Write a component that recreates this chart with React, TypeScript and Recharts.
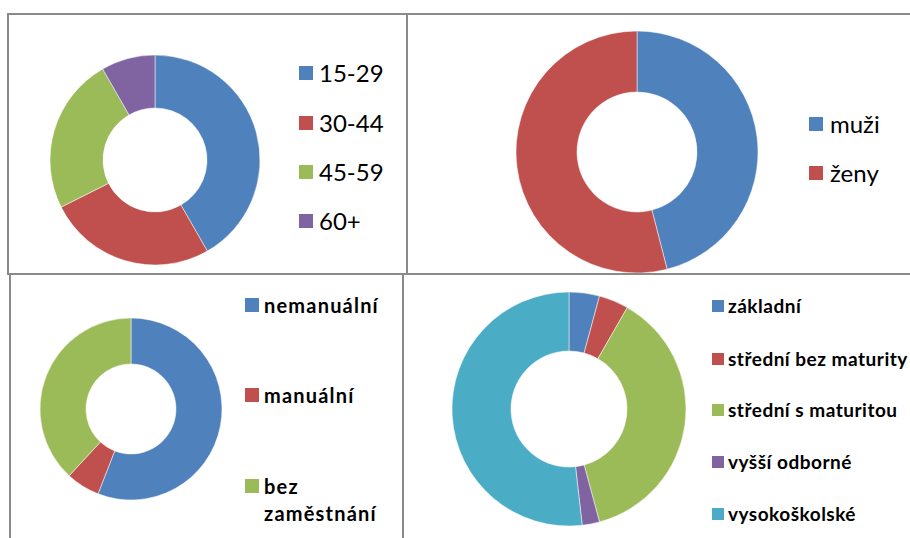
import { Cell, Legend, Pie, PieChart } from "recharts";

const AGE_LABELS = ["15-29", "30-44", "45-59", "60+"];
const AGE_VALUES = [41.7, 25.9, 24.1, 8.3];
const AGE_COLORS = ["#4F81BD", "#C0504D", "#9BBB59", "#8064A2"];

const SEX_LABELS = ["muži", "ženy"];
const SEX_VALUES = [46, 54];
const SEX_COLORS = ["#4F81BD", "#C0504D"];

const JOB_LABELS = ["nemanuální", "manuální", "bez zaměstnání"];
const JOB_VALUES = [55.9, 6.0, 38.1];
const JOB_COLORS = ["#4F81BD", "#C0504D", "#9BBB59"];

const EDU_LABELS = ["základní", "střední bez maturity", "střední s maturitou", "vyšší odborné", "vysokoškolské"];
const EDU_VALUES = [4.2, 4.1, 37.5, 2.4, 51.8];
const EDU_COLORS = ["#4F81BD", "#C0504D", "#9BBB59", "#8064A2", "#4BACC6"];

const FONT = "Lato, 'Open Sans', sans-serif";
const BORDER = 2;

interface LegendLayout {
  x: number;
  rows: number[]; // row centers, chart coords
  fontSize: number;
  fontWeight?: number;
  square: number;
  gap: number;
  lineHeight: number;
  textWidth: number;
  letterSpacing?: number;
}

interface PanelProps {
  box: { left: number; top: number; width: number; height: number };
  labels: string[];
  values: number[];
  colors: string[];
  cx: number;
  cy: number;
  outer: number;
  inner: number;
  legend: LegendLayout;
}

function DonutPanel({ box, labels, values, colors, cx, cy, outer, inner, legend }: PanelProps) {
  const w = box.width - BORDER * 2;
  const h = box.height - BORDER * 2;
  const data = labels.map((name, i) => ({ name, value: values[i], fill: colors[i] }));

  // recharts sorts the legend payload, so keep the data order here
  const renderLegend = (props: any) => {
    const payload: any[] = props.payload ?? [];
    return (
      <div style={{ position: "relative", fontFamily: FONT }}>
        {labels.map((lbl, i) => {
          const p = payload.find((q) => q.value === lbl);
          const top = legend.rows[i] - legend.lineHeight / 2;
          return (
            <div
              key={lbl}
              style={{ position: "absolute", left: 0, top, display: "flex", alignItems: "flex-start" }}
            >
              <span
                style={{
                  display: "inline-block",
                  width: legend.square,
                  height: legend.square,
                  marginTop: (legend.lineHeight - legend.square) / 2,
                  background: p?.color ?? colors[i],
                  flex: "none",
                }}
              />
              <span
                style={{
                  marginLeft: legend.gap,
                  fontSize: legend.fontSize,
                  fontWeight: legend.fontWeight ?? 400,
                  lineHeight: `${legend.lineHeight}px`,
                  letterSpacing: legend.letterSpacing ?? 0,
                  color: "#000",
                  width: legend.textWidth,
                  whiteSpace: "normal",
                }}
              >
                {lbl}
              </span>
            </div>
          );
        })}
      </div>
    );
  };

  return (
    <div
      style={{
        position: "absolute",
        left: box.left,
        top: box.top,
        width: box.width,
        height: box.height,
        boxSizing: "border-box",
        border: `${BORDER}px solid #8a8a8a`,
        background: "#fff",
      }}
    >
      <PieChart width={w} height={h} margin={{ top: 0, right: 0, bottom: 0, left: 0 }}>
        <Pie
          data={data}
          dataKey="value"
          nameKey="name"
          cx={cx}
          cy={cy}
          outerRadius={outer}
          innerRadius={inner}
          startAngle={90}
          endAngle={-270}
          stroke="#ffffff"
          strokeWidth={0.5}
          isAnimationActive={false}
        >
          {data.map((d) => (
            <Cell key={d.name} fill={d.fill} />
          ))}
        </Pie>
        <Legend
          layout="vertical"
          align="right"
          verticalAlign="top"
          content={renderLegend}
          wrapperStyle={{ left: legend.x, top: 0, right: "auto", bottom: "auto", width: 220, height: 0 }}
        />
      </PieChart>
    </div>
  );
}

export default function App() {
  return (
    <div
      style={{
        position: "absolute",
        left: 0,
        top: 0,
        width: 910,
        height: 538,
        overflow: "hidden",
        background: "#fff",
      }}
    >
      <DonutPanel
        box={{ left: 7, top: 13, width: 401, height: 262 }}
        labels={AGE_LABELS}
        values={AGE_VALUES}
        colors={AGE_COLORS}
        cx={146}
        cy={145}
        outer={105}
        inner={52}
        legend={{ x: 290, rows: [58, 108, 157, 206], fontSize: 24, square: 14, gap: 6, lineHeight: 28, textWidth: 90 }}
      />
      <DonutPanel
        box={{ left: 406, top: 13, width: 520, height: 262 }}
        labels={SEX_LABELS}
        values={SEX_VALUES}
        colors={SEX_COLORS}
        cx={229}
        cy={137}
        outer={121}
        inner={60}
        legend={{ x: 401, rows: [109, 158], fontSize: 24, square: 14, gap: 7, lineHeight: 28, textWidth: 90 }}
      />
      <DonutPanel
        box={{ left: 9, top: 273, width: 395, height: 280 }}
        labels={JOB_LABELS}
        values={JOB_VALUES}
        colors={JOB_COLORS}
        cx={120}
        cy={134}
        outer={91}
        inner={45}
        legend={{ x: 234, rows: [30, 120, 211], fontSize: 20, fontWeight: 700, square: 14, gap: 5, lineHeight: 27, textWidth: 135, letterSpacing: 1.2 }}
      />
      <DonutPanel
        box={{ left: 402, top: 273, width: 520, height: 280 }}
        labels={EDU_LABELS}
        values={EDU_VALUES}
        colors={EDU_COLORS}
        cx={165}
        cy={134}
        outer={117}
        inner={58}
        legend={{ x: 308, rows: [31, 84, 135, 187, 239], fontSize: 19, fontWeight: 700, square: 12, gap: 4, lineHeight: 24, textWidth: 210, letterSpacing: 0.5 }}
      />
    </div>
  );
}
